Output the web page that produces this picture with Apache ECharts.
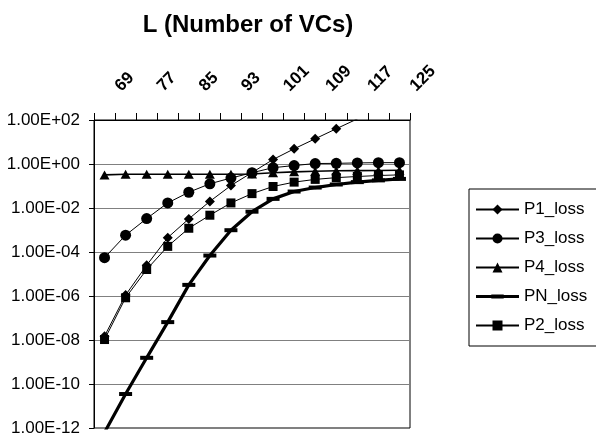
<!DOCTYPE html>
<html>
<head>
<meta charset="utf-8">
<script src="https://cdn.jsdelivr.net/npm/echarts@6/dist/echarts.min.js"></script>
<style>
  html, body { margin: 0; padding: 0; background: #fff; }
  #chart { width: 596px; height: 437px; }
</style>
</head>
<body>
<div id="chart"></div>
<script>
// Categories: L (Number of VCs)
const categories = ['69','73','77','81','85','89','93','97','101','105','109','113','117','121','125'];

// Series values (loss probabilities, log-scale chart)
const P1_loss = [1.5e-8, 1.1e-6, 2.5e-5, 4.5e-4, 3.2e-3, 2.0e-2, 1.05e-1, 4.1e-1, 1.6, 4.9, 14, 40, 112, 316, 890];
const P3_loss = [5.5e-5, 5.8e-4, 3.3e-3, 1.7e-2, 5.2e-2, 1.26e-1, 2.3e-1, 4.0e-1, 6.8e-1, 8.5e-1, 1.05, 1.07, 1.12, 1.15, 1.15];
const P4_loss = [0.32, 0.34, 0.34, 0.34, 0.34, 0.34, 0.34, 0.35, 0.40, 0.44, 0.47, 0.49, 0.50, 0.51, 0.52];
const PN_loss = [6.3e-13, 3.5e-11, 1.55e-9, 6.5e-8, 3.2e-6, 6.9e-5, 9.8e-4, 6.8e-3, 2.6e-2, 5.6e-2, 8.5e-2, 1.17e-1, 1.5e-1, 1.8e-1, 2.1e-1];
const P2_loss = [1.05e-8, 8.3e-7, 1.6e-5, 1.8e-4, 1.2e-3, 4.7e-3, 1.7e-2, 4.5e-2, 9.5e-2, 1.5e-1, 2.0e-1, 2.4e-1, 2.7e-1, 3.0e-1, 3.2e-1];

// Y tick labels
const yTickLabels = ['1.00E-12','1.00E-10','1.00E-08','1.00E-06','1.00E-04','1.00E-02','1.00E+00','1.00E+02'];

const FONT = 'Liberation Sans, Arial, sans-serif';
const chart = echarts.init(document.getElementById('chart'), null, { renderer: 'canvas' });

function yLabel(v) {
  const e = Math.round(Math.log10(v));
  const s = '1.00E' + (e >= 0 ? '+' : '-') + String(Math.abs(e)).padStart(2, '0');
  return yTickLabels.indexOf(s) >= 0 ? s : '';
}

const PN_ICON = 'path://M0,4.75L45,4.75L45,7.75L0,7.75Z M16,4.25L29,4.25L29,8.25L16,8.25Z';

function lineSeries(name, data, symbol, size, width) {
  return {
    name: name,
    type: 'line',
    data: data,
    symbol: symbol,
    symbolSize: size,
    showAllSymbol: true,
    clip: true,
    lineStyle: { color: '#000', width: width },
    itemStyle: { color: '#000', borderWidth: 0 },
    emphasis: { disabled: true },
    z: 3
  };
}

const option = {
  animation: false,
  backgroundColor: '#fff',
  title: {
    text: 'L (Number of VCs)',
    left: 248,
    top: 13,
    padding: 0,
    textAlign: 'center',
    textStyle: { fontFamily: FONT, fontSize: 24, fontWeight: 'bold', color: '#000' }
  },
  legend: {
    orient: 'vertical',
    left: 469,
    top: 189,
    padding: [12, 14, 12, 6],
    itemWidth: 43,
    itemHeight: 12.5,
    itemGap: 12,
    borderColor: '#000',
    borderWidth: 1,
    borderRadius: 0,
    backgroundColor: '#fff',
    selectedMode: false,
    textStyle: { fontFamily: FONT, fontSize: 17, lineHeight: 17, color: '#000' },
    data: [
      { name: 'P1_loss' },
      { name: 'P3_loss' },
      { name: 'P4_loss' },
      { name: 'PN_loss', icon: PN_ICON },
      { name: 'P2_loss' }
    ]
  },
  grid: {
    left: 94, top: 120, width: 316, height: 308,
    show: true, borderColor: '#000', borderWidth: 1, backgroundColor: 'transparent',
    containLabel: false
  },
  xAxis: {
    type: 'category',
    position: 'top',
    data: categories,
    boundaryGap: true,
    axisLine: { show: true, lineStyle: { color: '#000', width: 1 } },
    axisTick: { show: true, inside: false, length: 7, interval: 0, lineStyle: { color: '#000', width: 1 } },
    axisLabel: {
      interval: 1,
      rotate: -45,
      margin: 18,
      padding: [0, 0, 0, 19],
      fontFamily: FONT,
      fontSize: 17,
      fontWeight: 'bold',
      color: '#000',
      hideOverlap: false
    },
    splitLine: { show: false }
  },
  yAxis: {
    type: 'log',
    logBase: 100,
    min: 1e-12,
    max: 1e2,
    splitNumber: 7,
    axisLine: { show: true, lineStyle: { color: '#000', width: 1 } },
    axisTick: { show: true, inside: false, length: 5, lineStyle: { color: '#000', width: 1 } },
    axisLabel: {
      margin: 14,
      fontFamily: FONT,
      fontSize: 17,
      color: '#000',
      formatter: yLabel
    },
    splitLine: { show: true, lineStyle: { color: '#808080', width: 1 } },
    minorTick: { show: false },
    minorSplitLine: { show: false }
  },
  series: [
    lineSeries('P1_loss', P1_loss, 'diamond', 10, 1),
    lineSeries('P3_loss', P3_loss, 'circle', 11, 1),
    lineSeries('P4_loss', P4_loss, 'triangle', [10, 9], 1.6),
    lineSeries('PN_loss', PN_loss, 'rect', [13, 4], 3.2),
    lineSeries('P2_loss', P2_loss, 'rect', 9, 1)
  ]
};

chart.setOption(option);
</script>
</body>
</html>
